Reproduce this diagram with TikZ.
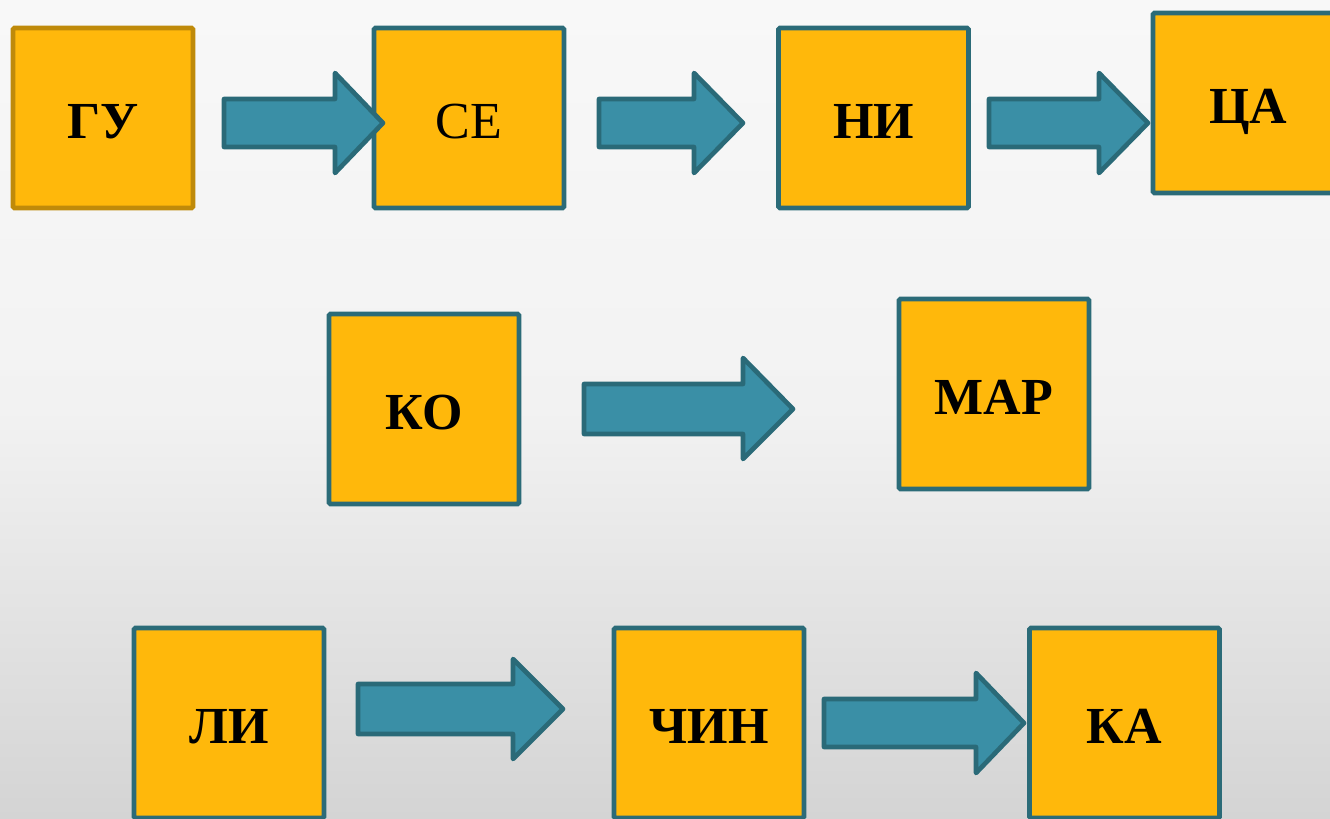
\documentclass[tikz,border=0pt]{standalone}
\usepackage{fontspec}
\setmainfont{Liberation Serif}

\definecolor{boxfill}{RGB}{255,184,11}
\definecolor{boxline}{RGB}{43,107,120}
\definecolor{guline}{RGB}{191,138,10}
\definecolor{arrowfill}{RGB}{58,143,166}
\definecolor{arrowline}{RGB}{42,106,120}

\tikzset{every picture/.style={line width=0.75pt}}
\tikzset{
  syllable/.style={draw=boxline, fill=boxfill, line width=3.5pt, rounded corners=1pt,
    minimum width=142.5pt, minimum height=135pt, inner sep=0pt,
    text height=30pt, text depth=0pt,
    font=\fontsize{39}{45}\selectfont\bfseries},
  tallbox/.style={minimum height=142.5pt},
  blockarrow/.style={draw=arrowline, fill=arrowfill, line width=3.5pt, line join=round},
}

\begin{document}
\begin{tikzpicture}[x=0.75pt,y=0.75pt,yscale=-1,xscale=1]
	\useasboundingbox (0,0) rectangle (1330,818);

	% Background
	\shade [top color={rgb,255:red,248;green,248;blue,248}, bottom color={rgb,255:red,242;green,242;blue,242}] (0,0) rectangle (1330,410);
	\shade [top color={rgb,255:red,242;green,242;blue,242}, bottom color={rgb,255:red,212;green,212;blue,212}] (0,409) rectangle (1330,818);

	% Top row
	\node [syllable, draw=guline, minimum width=135pt] (gu) at (103,118) {ГУ};
	\node [syllable, font=\fontsize{39}{45}\selectfont] (se) at (469,118) {СЕ};
	\node [syllable] (ni) at (873.5,118) {НИ};
	\node [syllable] (tsa) at (1248,103) {ЦА};

	% Middle row
	\node [syllable, tallbox] (ko) at (424,409) {КО};
	\node [syllable, tallbox] (mar) at (994,394) {МАР};

	% Bottom row
	\node [syllable, tallbox] (li) at (229,723) {ЛИ};
	\node [syllable, tallbox] (chin) at (709,723) {ЧИН};
	\node [syllable, tallbox] (ka) at (1124.5,723) {КА};

	% Block arrows
	\draw [blockarrow] (224,99) -- (335,99) -- (335,73) -- (383,123) -- (335,173) -- (335,147) -- (224,147) -- cycle;
	\draw [blockarrow] (599,99) -- (694,99) -- (694,73) -- (743,123) -- (694,173) -- (694,147) -- (599,147) -- cycle;
	\draw [blockarrow] (989,99) -- (1099,99) -- (1099,73) -- (1148,123) -- (1099,173) -- (1099,147) -- (989,147) -- cycle;
	\draw [blockarrow] (584,384) -- (743,384) -- (743,358) -- (793,409) -- (743,459) -- (743,434) -- (584,434) -- cycle;
	\draw [blockarrow] (358,684) -- (513,684) -- (513,659) -- (563,709) -- (513,759) -- (513,734) -- (358,734) -- cycle;
	\draw [blockarrow] (824,699) -- (976,699) -- (976,673) -- (1024,723) -- (976,773) -- (976,747) -- (824,747) -- cycle;

\end{tikzpicture}
\end{document}
